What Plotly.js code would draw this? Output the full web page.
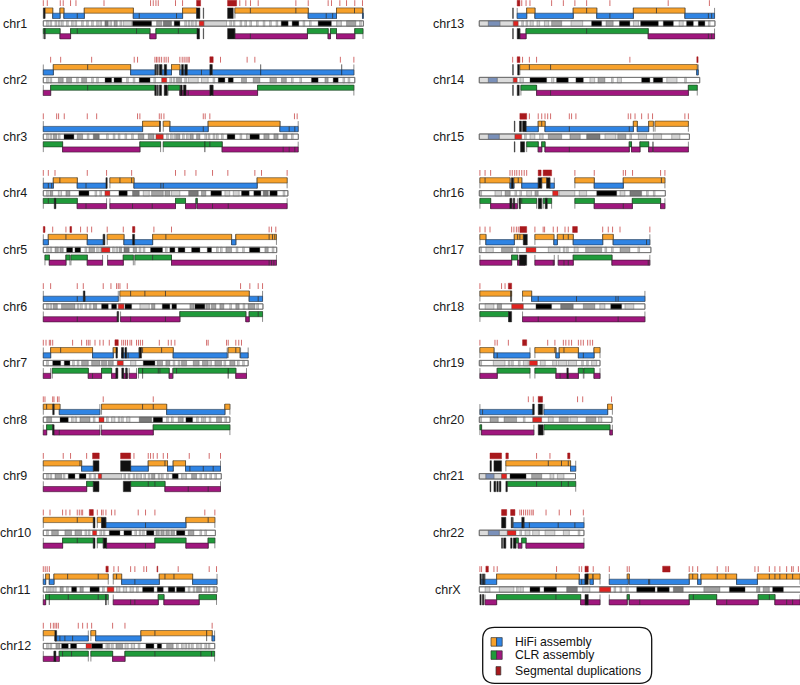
<!DOCTYPE html>
<html><head><meta charset="utf-8">
<script src="https://cdn.plot.ly/plotly-3.0.1.min.js"></script>
<style>html,body{margin:0;padding:0;background:#fff}#chart{width:800px;height:685px}</style>
</head><body><div id="chart"></div>
<script>
// ---------------- DATA (positions in Mb) ----------------
const chromNames = ['chr1','chr2','chr3','chr4','chr5','chr6','chr7','chr8','chr9','chr10','chr11','chr12',
                    'chr13','chr14','chr15','chr16','chr17','chr18','chr19','chr20','chr21','chr22','chrX'];
const chromLengths = [248.9,242.2,198.3,190.2,181.5,170.8,159.3,145.1,138.4,133.8,135.1,133.3,
                      114.4,107.0,102.0,90.3,83.3,80.4,58.6,64.4,46.7,50.8,156.0];
const legendLabels = ['HiFi assembly','CLR assembly','Segmental duplications'];

// Segmental duplications: number = single SD, [start,end] = cluster
const chr1_sd = [0,3.1,13.2,15.5,21.2,25.4,47.2,83.4,85.5,87.6,89.4,102.8,108.3,[119.2,122.3],[143.3,150.3],152.8,157.5,161.1,167.1,196.4,206,221.5,224.1,230.6,235.8,242.2,248.2];
const chr2_sd = [5.7,13.5,37.6,70.7,73.3,86.8,88,89.2,90.5,92,94,95.5,97.2,106.2,108,109.5,111,112.5,113.5,[129.5,132.1],137.8,158.5,164.5,231,241.5];
const chr3_sd = [0,10.4,11.9,16.3,34.2,41.5,73.3,75.1,90.2,91.7,93.8,124.4,125.9,129.5,195.3,197.4];
const chr4_sd = [0,3.9,9.1,34.2,49.2,68.7,102.8,110.1,118.7,131.6,143.5,164.5,169.7,189.6];
const chr5_sd = [[0,1.3],7.3,17.6,[20.7,22],29,34.2,37.6,49.7,62.2,[69.4,71.2],86,99.7,175.6,177.5,180.8];
const chr6_sd = [0,5.7,26.4,31.1,46.6,52.6,57,58.3,59.6,65.3,153.4,160.6,167.1,170.5];
const chr7_sd = [0,2.1,4.7,5.7,7.3,22.8,29.8,33.7,35,36.3,40.2,44,46.6,51.3,[55.7,58.3],61,62.5,64,65.5,67.4,68.7,72.5,74,75.5,77.2,90.2,97.2,99.5,102.3,127,128.2,142.5,143.8,149.7,152,154.1];
const chr8_sd = [0,1.3,7.3,8.3,11,12.2,46.6,85.5];
const chr9_sd = [0,15.5,21.2,33.7,[38.3,43.5],[60.1,67.9],70.5,81.6,83.4,85.5,88.6,93.3,96.6,113.5,129,137.8];
const chr10_sd = [0,5.2,15,17.6,20.7,26.4,28,29.5,30.6,[35.8,38.9],42,45.3,46.5,48.7,53.1,55.7,73.8,79.5,86.8,125.6,133.4];
const chr11_sd = [0,1.5,3,4.7,[48.7,50.5],54.9,58.3,67.9,71.2,78.2,80.3,[88.4,89],104.9,129,134.7];
const chr12_sd = [0,5.7,7.8,9.1,10.4,11.7,27.2,30.6,34.2,37.6,53.9,63.5,131.3];
const chr13_sd = [[18.4,19.7],20.6,22.7,24.6,35.1,40.8,46.4,52.1,63.4,91.7,111.7];
const chr14_sd = [16.2,[18.4,19.7],21,24.3,27.8,73.1,[105.6,106.2]];
const chr15_sd = [[19.7,23],24.3,28.6,30.3,31.9,33.2,34.6,43.7,44.8,46.9,72.3,73.5,75.6,78.8,82,84.1,99.8,101.5];
const chr16_sd = [0.3,2.8,5.5,14.9,16,17.2,18.2,19.4,20.6,21.8,23,[28.6,30],[31,35.1],46.4,55.8,69.9,71,74.4,88,90.1];
const chr17_sd = [0.3,2.8,5.2,15.7,16.8,18,18.9,[19.7,23],27,31,31.7,35.9,37.9,41.6,43.2,[45.3,47.6],59.9,62.6,64.7,68.3,82.8];
const chr18_sd = [0.3,10.8,12.5,[14.1,15.7]];
const chr19_sd = [0.3,7.6,8.7,14.1,[21,23],33.2,36.7,40.8,42,43.5,44.8,48.1,49.3,50.5,52.6,53.8,55];
const chr20_sd = [23.8,26.2,[28.6,30.7],47.7,50.2,64.2];
const chr21_sd = [[5.2,10.8],[12.9,14.1],27.8,34.3,[42.9,44]];
const chr22_sd = [[10.8,13.3],[15.2,17.3],19.7,20.5,21.5,22.5,23.5,24.5,25.5,26.2,32.4,38.8,44.3,50.5];
const chrX_sd = [0.3,1.1,[3.2,4.4],7.1,8.7,37.5,48.5,49.7,[51.3,52.9],55.3,63.1,71.8,72.8,[89,92.6],101.9,103.6,106,115.5,119.7,120.9,133.8,135.4,140.8,143.5,145.9,149.2,151.6,152.4,154.9];

// HiFi contigs: [colour ('o' orange / 'b' blue / 'k' small contigs), start, end, ...internal breaks]
const chr1_hifi = [['k',0,1.3],['o',1.3,7.3],['b',7.3,13],['o',13,16],['b',16,31.9,26.4],['o',31.9,70],['b',70,108.3,74.6,103.6],['o',108.3,119.2],['k',119.2,121.8],['k',124.4,124.7],['k',143.3,147.7],['o',149,206,161,196.4],['b',206,228,220,225],['o',228,248.2,242],['b',248.2,248.9]];
const chr2_hifi = [['b',0,7.8],['o',7.8,67.9,34.5],['b',67.9,86.8],['k',87,88],['k',88.6,89.4],['k',90.2,92.2],['b',92.2,99.7],['k',94,95.9],['o',99.7,106.2],['b',106.2,130,123],['k',107.5,109],['k',110,112],['k',129.5,131.3],['b',131.3,169],['b',169,232],['b',232,241.5]];
const chr3_hifi = [['b',0,77.2],['o',77.2,90.7],['k',90.4,91],['o',93.3,98.4],['b',98.4,128.2,124.4],['o',128.2,184],['b',184,198.2,191.2,195.6]];
const chr4_hifi = [['b',0,7.8,3.9,6.5],['o',7.8,26.4,12.9],['b',26.4,49.2,33.2],['k',48.7,49.7],['o',51.8,70.5,59.6,68.7],['b',70.5,166.3,91.4,93.3],['o',166.3,189.6]];
const chr5_hifi = [['b',0,3.9],['o',3.9,34.2,17.6],['b',34.2,46.6],['k',46.6,47.9],['o',49.7,62.7],['b',62.7,85],['k',69.4,71],['o',85,146.4,95.3],['b',146.4,149.7],['o',149.7,181.3,175.6,178.2,180]];
const chr6_hifi = [['b',0,58.3,26.4,32.4],['k',31.1,32.4],['o',59.6,160.1,67.9,79,95],['b',160.1,170.5,167.1]];
const chr7_hifi = [['b',0,5.7],['o',5.7,38.3,13.5],['b',38.3,54.4],['o',54.4,57.5],['k',56.5,57.5],['b',60.9,74.6,66],['k',60.9,62.5],['k',63.5,64.8],['k',74.6,76.4],['o',74.6,101,77.2,92],['b',101,143],['o',143.8,152.8,149.7],['b',153.4,159.3]];
const chr8_hifi = [['o',0,13,2.6,7.8],['k',7.3,8.5],['b',12.4,44],['o',45.3,95.9,77.2,85.5],['b',95.9,141.2],['o',141.2,145.1]];
const chr9_hifi = [['o',0,29.8,28.5],['b',29.8,38.9],['k',38.9,43.3],['k',60.1,67.9],['b',67.9,81.6],['o',81.6,96.6,94.6],['b',96.6,101],['o',101,110.6],['b',110.6,137.8,114,124.4,132.1]];
const chr10_hifi = [['o',0,38.9,26.4],['k',38.9,40.2],['o',42,45.3],['k',45.3,48.7],['b',48.7,110.9,79.5],['o',110.9,133.4,128.2]];
const chr11_hifi = [['b',0,1.8],['o',1.8,4.7],['b',4.7,8.3],['o',8.3,50.5,18.9,42.7],['o',54.4,60.9,57],['b',60.9,90.2,71.2],['o',90.2,116.1,94.6,101.6],['b',116.1,135.1]];
const chr12_hifi = [['o',0,9.1],['k',9.1,10.4],['b',9.1,35,12.9,16.8,22.8],['o',37,40.7],['b',40.7,75.9],['o',75.9,127,86.8],['o',127,131.3],['b',131.3,133.2]];
const chr13_hifi = [['k',16.2,16.5],['b',18.4,23],['o',23,27],['b',27,45.6],['o',45.6,57,52.1],['b',57,74.8,63.4],['o',74.8,99.8,86],['b',99.8,114.2,111.2,112.8]];
const chr14_hifi = [['k',16.2,16.5],['k',18.6,19.4],['o',19.7,105.8,24.3,34.6],['b',105.5,106.3]];
const chr15_hifi = [['k',17,17.3],['k',19.5,20.5],['k',21,22.7],['b',22.7,28.6],['o',28.6,31.9,30.3],['b',31.9,74.8,43.7,72.8],['o',74.8,76.7],['b',76.7,82.2],['o',82.2,84.5],['o',85.3,101.5]];
const chr16_hifi = [['o',0.3,14.9,2.8],['b',14.9,16.8],['k',15.5,16.5],['o',16.8,20.6,18.9],['b',20.6,28.6],['k',28.6,30.3],['o',30.3,32.7],['k',32.7,34.3],['b',34.3,36.4],['o',46.4,55.8],['b',55.8,69.9],['o',69.9,90.1,88.4]];
const chr17_hifi = [['o',0.3,3.2],['b',3.2,17],['o',17,21.4,18.6,19.7],['k',21.4,23.3],['o',27,36.2],['b',36.2,37.9],['o',37.9,45.6,40.8,43.2],['b',45.6,59.9],['o',59.9,65],['b',65,82.8,81.2]];
const chr18_hifi = [['o',0.3,15.7],['k',15.2,15.5],['o',21,25.4],['b',25.4,80.4,28.6,47.2,66.3,67.4]];
const chr19_hifi = [['o',0.3,7.1],['b',7.1,24.6,8.7],['o',27,37.2,36.7],['b',37.2,38.8],['o',38.8,48.1,41.1],['b',48.1,55.7,50.5],['o',55.7,58.6]];
const chr20_hifi = [['b',0.3,26.2,1.6],['k',25.9,26.7],['k',28.6,30.7],['b',31.4,62.3],['o',62.3,64.6]];
const chr21_hifi = [['k',5.2,5.9],['k',7.1,10.8],['o',12.9,44.3,33.5,39.9,43.2],['b',44.3,46.8]];
const chr22_hifi = [['k',10.8,12.9],['k',15.5,16.2],['b',16.5,50.8,21.4,24.3,38.3,46.4],['k',20.6,21.8]];
const chrX_hifi = [['k',0.3,0.9],['k',1.5,2.2],['k',2.5,2.8],['b',0.9,8.4],['o',8.4,48.5,37.2],['b',48.5,51.3,49.7],['k',51.3,52.9],['o',52.1,55],['b',53.7,55.3],['o',55.3,58.6],['b',63.1,72.3],['o',71.8,72.8],['b',72.8,101.9,82.2,82.7],['o',101.9,106,103.6],['b',106,107.6],['o',107.6,124.9,115.5,119.7],['b',124.9,135],['o',135,155.7,140.8,143.5,145.9,149.2,152.1]];

// CLR contigs: [colour ('g' green / 'm' magenta / 'k' small contigs), start, end, ...internal breaks]
const chr1_clr = [['g',0,13],['k',0.8,1.5],['m',13,21.2],['g',21.2,82.9,26.4,72.5],['m',82.9,87.6],['g',87.6,119.9,105],['k',119.5,121.5],['k',124.4,124.7],['k',143.3,149],['m',149,205.4,161],['g',205.4,221.5],['m',221.5,223.3],['g',223.3,228],['m',228,242.2],['g',242.2,248.6]];
const chr2_clr = [['m',0,5.7],['g',5.7,86.8,34.5],['k',86.8,88],['k',88.6,89.4],['k',90.2,92],['k',94,96.5],['g',97,106.2],['m',106.2,130,112.7],['k',106.5,108],['k',109,111],['k',129.5,132],['m',132,166.6],['g',166.6,241.5]];
const chr3_clr = [['g',0,15],['m',15,75.1],['g',75.1,91.2],['g',93.3,125.6],['g',125.6,139.1,129.5],['m',139.1,198.2,186.5,191.2,195.6]];
const chr4_clr = [['g',0,26.4,3.9],['k',8.5,9.8],['m',26.4,49.2,33.2],['m',51.8,102.8,69.4,84.7],['g',102.8,110.6],['m',110.6,118.7],['g',118.7,119.7],['m',119.7,189.6,131.6,143.8]];
const chr5_clr = [['g',1.3,4.7],['m',4.7,17.6],['g',17.6,20.7],['g',21.5,34.2],['m',34.2,46.1],['m',50,62.2],['g',62.2,70],['g',71.2,99.7,85],['m',99.7,181.3,175.6,177.5,179.3]];
const chr6_clr = [['m',0,57.5,26.4],['k',57.5,58.6],['m',60.1,106.2,67.9,95],['g',106.2,157.5],['m',157.5,160.1],['g',160.1,170.5,167.1]];
const chr7_clr = [['m',0,5.7],['g',7,35],['m',35,45.3,38.3],['g',45.3,53.1],['m',53.1,56.5],['k',56.5,58],['k',61,62.5],['m',62.2,65.5],['k',64,65],['m',66.8,72.5],['g',74,77.2],['g',77.2,97.9,89.4,90.7],['m',97.9,100.5],['g',101,143.8,103.6],['g',143.8,149.7],['m',149.7,158]];
const chr8_clr = [['m',0,2.6],['g',2.6,7.3],['k',7.3,8.3],['m',8.3,44,12.4],['m',45.3,85.5],['g',85.5,145.1]];
const chr9_clr = [['m',0,33.7],['g',33.7,38.9],['k',38.9,43.3],['k',62.2,67.9],['g',67.9,94.6,81.6,86.8],['m',94.6,137.8,112.7,128.2]];
const chr10_clr = [['m',0,15],['g',15,38.9,26.4],['k',38.9,40.2],['g',42,46.6],['k',46.6,49.2],['m',49.2,86.8,79.5],['g',86.8,110.9],['m',110.9,128.2],['g',128.2,133.4]];
const chr11_clr = [['m',0,1.8],['g',1.8,4.7],['g',4.7,50.5,19.4,42.7],['k',48.4,49],['m',54.4,89.4,67.9,71.2],['g',89.4,93.8],['m',93.8,121.2],['g',121.2,134.7]];
const chr12_clr = [['m',0,8.3],['k',8.3,9.8],['m',9,12.4],['g',12.4,35,15,22],['g',37,53.9],['m',53.9,63.5],['g',63.5,133.2,86.8,122.5,130.8]];
const chr13_clr = [['k',16.2,16.5],['k',18.4,19.7],['m',19.7,22.7],['g',22.7,82,52.1],['m',82,114.2,111.2,112.8]];
const chr14_clr = [['k',16.2,16.5],['k',18.4,19.4],['g',20.2,27.8],['m',27.8,101.5,34.6],['g',101.5,105.8]];
const chr15_clr = [['k',17,17.3],['k',20,22],['g',23,28.6],['m',28.6,30.3],['g',30.3,31.9],['m',31.9,72.8,43.7],['g',72.8,73.9],['m',73.9,78],['g',78,82.2],['m',82.2,84.1],['m',84.5,101.5]];
const chr16_clr = [['g',0.3,5.5],['m',5.5,14.9],['k',14.9,15.8],['m',15.8,18.5],['k',16.5,17.2],['g',19.4,27.8,20.6],['k',19.4,20],['k',28.6,30.3],['g',31,35.1],['k',32,33],['g',46.4,55.8],['m',55.8,74.3,69.9],['g',74.3,88],['m',88,90.1]];
const chr17_clr = [['m',0.3,15.7],['g',15.7,18.6],['m',18.6,22.2],['k',19.4,23],['m',27,36.4,35.9],['m',38.3,45.6,41.1,43.2],['g',45.6,64.4],['m',64.4,82.8,82]];
const chr18_clr = [['g',0.3,14.2],['k',14.2,15.7],['m',21,80.4,28.6,46.9,67.4]];
const chr19_clr = [['m',0.3,8.7],['g',8.7,24.6],['g',27,37.2],['m',37.2,48.1,39.2,43.2],['k',42.5,43.2],['g',48.1,50.5],['g',50.8,55.7],['m',55.7,58.6]];
const chr20_clr = [['g',0.3,1.1],['m',1.1,26.5],['k',28.6,31],['g',31.4,63.4],['m',63.4,64.6]];
const chr21_clr = [['k',5.2,5.6],['k',7.1,8],['k',8.5,9.2],['k',9.7,10.5],['k',12.9,13.5],['g',13.6,46.8,27.8,39.9,43.2]];
const chr22_clr = [['k',10.8,11.3],['k',11.8,12.9],['k',15.2,15.9],['k',16.5,17.8],['g',17.8,18.9],['m',18.9,20.6],['g',20.6,22.7],['m',22.7,50.8]];
const chrX_clr = [['k',0.3,0.9],['k',1.5,2.2],['m',2.8,8.4],['g',8.4,49.2,37.2],['m',49.2,58.6],['k',51.3,52.9],['m',63.1,71.8],['g',71.8,72.8],['m',72.8,101.9,77.9],['g',101.9,115.2,103.9],['m',115.2,135.4,120.1],['g',135.4,143.5,140.8],['m',143.5,155.7,149.2,152.1]];

// Cytobands: [start,end,stain] ; a plain number = thin light band
// stains: l light grey, m mid grey, d dark grey, k black, c centromere, s stalk, v variable (p-arm)
const chr1_bands = [2.6,5.2,9.1,11.7,14.2,18.1,22,24.6,29.8,33.7,37.6,41.5,44,[47.9,50.5,'d'],51.8,[55,57.5,'m'],59.6,[62.2,68.7,'l'],[69.4,84.2,'k'],[88.1,92,'m'],[93.3,99.7,'d'],[101.8,106.2,'k'],110,112.7,115.3,118,[121.2,124.9,'c'],[124.9,142.5,'l'],145,147.7,153,156.7,160.6,165.8,171,176,181,[185,190.4,'k'],[193.5,198.7,'k'],202,207,[213.7,224,'k'],228,230.6,[235.8,243,'m'],246];
const chr2_bands = [2.6,5.2,[11.7,15.5,'m'],[18.1,22,'m'],25.9,[29.8,33.7,'m'],37.6,41.5,[48,53.1,'k'],[55,61,'k'],64.8,69.9,[74.6,83,'k'],86,[92,96,'c'],98.4,101,[103.6,107.5,'m'],110,[112.7,120.5,'l'],[123,128.2,'l'],132,[136,141.2,'k'],[143.8,147.7,'k'],[154.1,158,'m'],[163.2,168.4,'m'],[176.2,181.3,'m'],[185.2,189,'m'],193,199.5,[208.5,213.7,'k'],[219,221.5,'m'],[225.4,229.3,'k'],233,237];
const chr3_bands = [2.6,5.2,[7.8,10.4,'m'],11.7,[16.1,23.8,'k'],[26.4,30.6,'m'],34.2,[38.9,43.5,'d'],49.2,54.4,58.3,63.5,68.7,[73.8,78.2,'m'],[81.6,86,'m'],[87.6,93.3,'c'],95.9,99,101.6,[103.6,106.2,'m'],108.3,111.4,[114,116.6,'m'],[119.2,121.8,'m'],125.6,128.2,132.1,134.7,138.6,[143,149,'k'],153,158,[160.6,168,'k'],[171.5,175.6,'m'],[179.3,182.6,'m'],[186.5,189.6,'m'],193];
const chr4_bands = [2.6,[5.2,7.3,'m'],[11.7,14.2,'l'],[17.6,20.7,'m'],[27.7,35.5,'k'],40.2,44,[47.9,51.8,'c'],[58.8,65.3,'k'],[69.4,74.6,'d'],[77.7,82.4,'l'],[84.2,93.3,'m'],[94.6,98.4,'m'],[99.7,106.2,'l'],[113,120.5,'d'],[123,126.4,'m'],[130.3,138.6,'k'],[141.2,145,'l'],[147.7,152.3,'l'],[154.1,160.1,'k'],[163.7,169.2,'k'],[171,174.9,'d'],[176.2,181.9,'k'],186.5];
const chr5_bands = [2.6,5.2,[9.1,11.7,'m'],[12.9,15.5,'m'],[18.1,22.8,'k'],[24.6,29,'k'],32.4,[35.5,39.9,'m'],41.5,44,[45.3,51.8,'c'],53.9,56.5,[59,60.9,'m'],[62.7,66.8,'d'],[69.9,72.5,'m'],74.6,77.7,[83.4,92.7,'k'],95,[98.4,102.3,'k'],[104.9,110.1,'k'],[115.3,121.8,'k'],[127.5,130.8,'k'],134.7,137.8,[142,146.4,'m'],150,155,[160.3,168.4,'k'],[172.3,174.9,'m'],178];
const chr6_bands = [2.6,5.2,[7.8,10.9,'m'],[14.2,24.6,'m'],26.4,29,32.4,35.8,[38.9,41.5,'m'],[45.3,50.5,'k'],[53.1,57,'k'],[58.3,62.7,'c'],[63.5,68.7,'k'],[75.1,82.4,'l'],[84.2,86.8,'m'],[92.5,98.4,'k'],[100,103.6,'k'],[114,117.1,'m'],[117.9,125.6,'k'],[126.4,129.5,'m'],[130.8,134.2,'m'],[137.3,140.4,'m'],145,[149.7,152.3,'m'],155.4,[159.3,164.5,'m'],166];
const chr7_bands = [2.6,[7.3,13.5,'k'],[16.3,20.7,'k'],22.8,26.4,[29.8,35,'m'],[37.6,44,'m'],[45.3,49.2,'m'],[50.5,54.4,'m'],[57.5,62.2,'c'],[67.9,72,'l'],[77.7,86.8,'k'],[88.6,92.7,'m'],[95.3,98.4,'m'],101,104.9,[107.5,111.4,'m'],[116.6,121.2,'m'],[123.8,128.2,'m'],129.5,[133.4,138.6,'m'],140.5,[145,149,'m'],151,155];
const chr8_bands = [[2.6,6.5,'m'],[13,19.4,'k'],22,24.6,[28.5,36.3,'m'],38.9,[43.3,47.2,'c'],49.2,[53.1,55.7,'l'],58.3,60.9,[64.8,67.4,'l'],[74.6,84.2,'d'],[85.5,92.7,'k'],95.9,99.7,[104.9,108.8,'m'],[110.9,116.1,'k'],119.2,123,124.9,129,[134.7,138.6,'m'],141.2];
const chr9_bands = [2.6,5.2,[9.1,14.2,'m'],15.5,[19.4,24.6,'k'],[28,33.2,'k'],35.8,39.4,[42.7,45.3,'c'],[45.3,60.9,'l'],62.7,66,69.9,72.5,75.1,78.2,81.6,[84.2,86.8,'m'],89.4,91.9,95.9,[100.3,104.9,'k'],107.5,110.1,[115.3,119.2,'m'],121.8,125.6,129.5,133.4];
const chr10_bands = [2.6,[6.5,11.7,'m'],[16.8,22,'m'],[24.6,29.8,'m'],32.4,35,[38.3,41.5,'c'],44,46.6,[51.3,59.6,'k'],[62.7,68.7,'k'],71.2,74.6,77.2,[80.3,86,'k'],[87.6,90.2,'m'],[91.4,94,'m'],[95.3,98,'m'],[99.2,102,'m'],[103.6,110.1,'k'],[112.7,117.1,'m'],121.8,125.6];
const chr11_bands = [[2.6,4.5,'l'],[5.2,7,'l'],[8,10,'l'],[13,15.5,'m'],18.1,[22,25.9,'k'],[28.5,31.1,'m'],[36.3,43.5,'k'],46.1,[49.7,54.9,'c'],[57,59.6,'l'],[62.2,64.8,'l'],[67.4,70,'l'],72.5,[77.2,86,'k'],[88.6,93.3,'k'],[97.2,102.3,'k'],[103.6,110.1,'k'],112.7,116.6,[119.2,123,'m'],125.6,128.2,132.1];
const chr12_bands = [2.6,5.2,[9.8,12.9,'m'],[14.2,19.4,'k'],[21.2,25.9,'k'],[33.2,37.6,'c'],[37.6,46.1,'k'],48.7,50.5,53.1,[56.5,61.7,'m'],[63.5,66,'l'],[68.4,71,'l'],73.8,[79.8,86,'k'],[88.6,92,'k'],[95.9,101,'m'],103.6,107.5,110.1,112.7,115.3,119.2,121.8,125.6,128.2];
const chr13_bands = [[0,4.4,'s'],[4.4,10,'v'],[10,16.5,'s'],[16.5,18.9,'c'],20.6,22.7,[24.6,26.2,'l'],[28,29.3,'l'],[31.6,33.7,'l'],[35.1,40,'m'],[44.5,50.2,'l'],[54.5,59.4,'k'],[61.5,65,'m'],[68,73.1,'k'],[74.8,77.3,'l'],[78.3,86.9,'k'],[89.3,94.2,'k'],[97,99,'l'],[100.6,103.9,'k'],[106.3,109.5,'k'],111.2];
const chr14_bands = [[0,4.4,'s'],[4.4,8.7,'v'],[8.7,16.5,'s'],[16.5,18.4,'c'],[19.7,21.4,'l'],[24.6,32.7,'k'],[35.1,36.2,'l'],[37.5,43.2,'k'],[46.9,50.5,'k'],[53.7,56,'l'],[57.6,61,'m'],64.2,[67,69,'l'],[78.8,82.8,'k'],[84.5,89,'k'],[91,96,'l'],99.7];
const chr15_bands = [[0,4.4,'s'],[4.4,9.7,'v'],[9.7,17.3,'s'],[17.3,20.6,'c'],22,[24.6,27,'l'],[29.3,31,'l'],[33.5,40,'m'],[44,49,'m'],[52.1,58.6,'d'],[61,66.3,'l'],[67.2,71.2,'m'],73.1,[77.2,81.2,'l'],[84.5,88.5,'l'],[93.4,97.4,'l']];
const chr16_bands = [0.3,[7.6,10.8,'l'],[12.5,15,'m'],17.3,19.7,[23,25.4,'l'],[27,28.6,'m'],[35.6,38.3,'c'],[38.8,46.4,'l'],[48.5,52.1,'l'],[57,66.7,'k'],[68.3,70.7,'l'],[73.1,78.8,'d'],81.2,84.5];
const chr17_bands = [0.3,[3.2,6.8,'l'],[10.8,16.2,'m'],18.1,[22.7,27.5,'c'],[33.5,39.2,'l'],40.8,42.4,[46,48,'l'],[51.6,59.4,'m'],61,64.2,[68.3,73.1,'m'],77];
const chr18_bands = [[2.8,7.1,'l'],[8.7,10.8,'m'],[15.7,21.4,'c'],[27.5,35.1,'k'],[39.5,45.6,'d'],[50.5,56.1,'m'],[58.5,61,'l'],[63.8,69.1,'k'],[70.7,75,'l']];
const chr19_bands = [0.3,[6.8,12.5,'l'],14.1,15.7,19,[21.4,23.8,'l'],[24.3,28.2,'c'],[29.6,32,'l'],[35.6,37.5,'l'],[38.3,42.4,'l'],[43.2,47.2,'l'],49.7,52.1,[54.5,57,'l']];
const chr20_bands = [0.3,[5.2,9.2,'m'],[12,18.1,'m'],21.4,[25.9,30.3,'c'],[33.5,35.9,'l'],[38.8,43.2,'m'],[44,47.6,'l'],[51.8,56.6,'m'],[57.9,59.5,'l']];
const chr21_bands = [[0,3.2,'s'],[3.2,7.1,'v'],[7.1,10.8,'s'],[10.8,13.3,'c'],[14.9,22.7,'k'],[25.4,30.3,'m'],[34.3,36.2,'l'],[37.9,41.1,'l']];
const chr22_bands = [[0,4.4,'s'],[4.4,9.7,'v'],[9.7,13.6,'s'],[13.6,17.8,'c'],19.7,[22.2,24.6,'l'],[25.9,29.1,'l'],[31.9,36.7,'l'],[40.8,43.7,'l'],48];
const chrX_bands = [[2.8,5.2,'l'],[9.7,16.8,'l'],18.1,[19.7,21.4,'l'],[24.6,29.4,'k'],[31.4,37.5,'k'],[42.4,47.6,'d'],[50.2,53.7,'l'],[58.3,63.8,'c'],65.4,68.3,[71.2,72.3,'l'],[76.4,85.3,'k'],[86.4,92.2,'k'],[94.2,99,'d'],[109,116.8,'m'],[121.4,129,'k'],[134.6,136.2,'m'],[137.8,140.8,'m'],[142.4,147.6,'k']];

// ---------------- tables built from the arrays ----------------
const SD = [chr1_sd,chr2_sd,chr3_sd,chr4_sd,chr5_sd,chr6_sd,chr7_sd,chr8_sd,chr9_sd,chr10_sd,chr11_sd,chr12_sd,chr13_sd,chr14_sd,chr15_sd,chr16_sd,chr17_sd,chr18_sd,chr19_sd,chr20_sd,chr21_sd,chr22_sd,chrX_sd];
const HIFI = [chr1_hifi,chr2_hifi,chr3_hifi,chr4_hifi,chr5_hifi,chr6_hifi,chr7_hifi,chr8_hifi,chr9_hifi,chr10_hifi,chr11_hifi,chr12_hifi,chr13_hifi,chr14_hifi,chr15_hifi,chr16_hifi,chr17_hifi,chr18_hifi,chr19_hifi,chr20_hifi,chr21_hifi,chr22_hifi,chrX_hifi];
const CLR = [chr1_clr,chr2_clr,chr3_clr,chr4_clr,chr5_clr,chr6_clr,chr7_clr,chr8_clr,chr9_clr,chr10_clr,chr11_clr,chr12_clr,chr13_clr,chr14_clr,chr15_clr,chr16_clr,chr17_clr,chr18_clr,chr19_clr,chr20_clr,chr21_clr,chr22_clr,chrX_clr];
const BANDS = [chr1_bands,chr2_bands,chr3_bands,chr4_bands,chr5_bands,chr6_bands,chr7_bands,chr8_bands,chr9_bands,chr10_bands,chr11_bands,chr12_bands,chr13_bands,chr14_bands,chr15_bands,chr16_bands,chr17_bands,chr18_bands,chr19_bands,chr20_bands,chr21_bands,chr22_bands,chrX_bands];

// ---------------- styling / layout constants ----------------
const W = 800, H = 685;
const ROW0 = 23.5, ROWGAP = 56.6;
const TR = {sd:[-23.3,-17.5], top1:[-15.6,-10.3], bot1:[-10.3,-5.0], ideo:[-2.7,2.7], top2:[5.0,10.2], bot2:[10.2,15.4]};
const COL = {o:'#f7a12b', b:'#2f84e4', g:'#1f9a3a', m:'#a0177e', k:'#111111', sd:'#a8181c'};
const STAIN = {w:'#ffffff', l:'#d3d3d3', m:'#a3a3a3', d:'#7a7a7a', k:'#000000', c:'#e0231f', s:'#dcdcdc', v:'#7a90b9'};
const COLUMNS = [
  {first:0, n:12, xa:'x', px0:43.3, scale:1.286, stripe:1.3, labelX:15},
  {first:12, n:11, xa:'x2', px0:479.3, scale:2.06, stripe:0.8, labelX:448}
];

function mk(){return {x:[],y:[]};}
function rect(a,x0,x1,y0,y1){a.x.push(x0,x1,x1,x0,x0,null);a.y.push(y0,y0,y1,y1,y0,null);}
function vline(a,x,y0,y1){a.x.push(x,x,null);a.y.push(y0,y1,null);}
function polyTrace(a,xa,fill,lc,lw){return {type:'scatter',mode:'lines',x:a.x,y:a.y,xaxis:xa,yaxis:'y',fill:'toself',fillcolor:fill,line:{color:lc,width:lw},hoverinfo:'skip'};}
function lineTrace(a,xa,lc,lw){return {type:'scatter',mode:'lines',x:a.x,y:a.y,xaxis:xa,yaxis:'y',line:{color:lc,width:lw},hoverinfo:'skip'};}

const traces = [], annotations = [];
COLUMNS.forEach(col => {
  const A = {};
  ['ideo','l','m','d','k','c','s','v','outline','ends','o','b','g','mg','blk','div','sd','sdt'].forEach(k=>A[k]=mk());
  for (let j=0;j<col.n;j++){
    const i = col.first + j;
    const yc = ROW0 + j*ROWGAP;
    const L = chromLengths[i];
    rect(A.ideo,0,L,yc+TR.ideo[0],yc+TR.ideo[1]);
    BANDS[i].forEach(b=>{
      if (typeof b === 'number') rect(A.l,b,b+col.stripe,yc+TR.ideo[0],yc+TR.ideo[1]);
      else rect(A[b[2]],b[0],b[1],yc+TR.ideo[0],yc+TR.ideo[1]);
    });
    rect(A.outline,0,L,yc+TR.ideo[0],yc+TR.ideo[1]);
    SD[i].forEach(s=>{
      if (typeof s === 'number') vline(A.sdt,s,yc+TR.sd[0],yc+TR.sd[1]);
      else rect(A.sd,s[0],s[1],yc+TR.sd[0],yc+TR.sd[1]);
    });
    const tracks = [
      {list:HIFI[i], top:TR.top1, bot:TR.bot1, codes:{o:['o','top'], b:['b','bot']}},
      {list:CLR[i], top:TR.top2, bot:TR.bot2, codes:{g:['g','top'], m:['mg','bot']}}
    ];
    tracks.forEach(t=>{
      t.list.forEach(c=>{
        const code=c[0], s=c[1], e=c[2];
        if (code==='k'){ rect(A.blk,s,e,yc+t.top[0],yc+t.bot[1]); return; }
        const [acc,row] = t.codes[code];
        const r = row==='top'?t.top:t.bot;
        rect(A[acc],s,e,yc+r[0],yc+r[1]);
        vline(A.ends,s,yc+t.top[0],yc+t.bot[1]);
        vline(A.ends,e,yc+t.top[0],yc+t.bot[1]);
        c.slice(3).forEach(d=>vline(A.div,d,yc+r[0],yc+r[1]));
      });
    });
    annotations.push({x:col.labelX/W, xref:'paper', y:yc, yref:'y', text:chromNames[i], showarrow:false,
      xanchor:'center', yanchor:'middle', font:{family:'Liberation Sans, Arial, sans-serif', size:12.5, color:'#1a1a1a'}});
  }
  const xa = col.xa;
  traces.push(polyTrace(A.ideo,xa,STAIN.w,'#666',0.5));
  ['l','m','d','k','s','v','c'].forEach(k=>traces.push(polyTrace(A[k],xa,STAIN[k],'rgba(70,70,70,0.75)',0.45)));
  traces.push(lineTrace(A.outline,xa,'#6a6a6a',0.9));
  traces.push(lineTrace(A.ends,xa,'#707070',0.8));
  traces.push(polyTrace(A.o,xa,COL.o,'#4a3a20',0.6));
  traces.push(polyTrace(A.b,xa,COL.b,'#22344a',0.6));
  traces.push(polyTrace(A.g,xa,COL.g,'#1f3a22',0.6));
  traces.push(polyTrace(A.mg,xa,COL.m,'#3a1a30',0.6));
  traces.push(polyTrace(A.blk,xa,COL.k,'#333',0.5));
  traces.push(lineTrace(A.div,xa,'#333',0.8));
  traces.push(lineTrace(A.sdt,xa,'rgba(196,60,60,0.75)',1.0));
  traces.push(polyTrace(A.sd,xa,COL.sd,'rgba(168,24,28,0.8)',0.6));
});

// ---------------- legend (drawn by hand) ----------------
const px = x => x/W, py = y => 1 - y/H;
const bx0=482.7, bx1=651.7, by0=627.3, by1=683.3, r=12;
const P = (x,y)=> px(x)+','+py(y);
const boxPath = 'M'+P(bx0+r,by0)+' L'+P(bx1-r,by0)+' Q'+P(bx1,by0)+' '+P(bx1,by0+r)+
  ' L'+P(bx1,by1-r)+' Q'+P(bx1,by1)+' '+P(bx1-r,by1)+' L'+P(bx0+r,by1)+' Q'+P(bx0,by1)+' '+P(bx0,by1-r)+
  ' L'+P(bx0,by0+r)+' Q'+P(bx0,by0)+' '+P(bx0+r,by0)+' Z';
const shapes = [{type:'path', xref:'paper', yref:'paper', path:boxPath, line:{color:'#111', width:1.3}, fillcolor:'rgba(0,0,0,0)'}];
function sw(x0,x1,y0,y1,fill){shapes.push({type:'rect',xref:'paper',yref:'paper',x0:px(x0),x1:px(x1),y0:py(y1),y1:py(y0),fillcolor:fill,line:{color:'#333',width:0.7}});}
sw(491,496.6,637.6,646.2,COL.o); sw(496.6,502.2,637.6,646.2,COL.b);
sw(491,496.6,650.8,659.4,COL.g); sw(496.6,502.2,650.8,659.4,COL.m);
sw(496,500.8,666.6,675,COL.sd);
[641.8,655.1,670.8].forEach((y,k)=>annotations.push({x:px(513),xref:'paper',y:py(y),yref:'paper',text:legendLabels[k],showarrow:false,
  xanchor:'left',yanchor:'middle',font:{family:'Liberation Sans, Arial, sans-serif',size:12.2,color:'#111'}}));

const layout = {
  width:W, height:H, margin:{l:0,r:0,t:0,b:0}, showlegend:false,
  paper_bgcolor:'#fff', plot_bgcolor:'#fff',
  xaxis:{range:[-COLUMNS[0].px0/COLUMNS[0].scale,(W-COLUMNS[0].px0)/COLUMNS[0].scale], visible:false, fixedrange:true},
  xaxis2:{range:[-COLUMNS[1].px0/COLUMNS[1].scale,(W-COLUMNS[1].px0)/COLUMNS[1].scale], overlaying:'x', anchor:'y', visible:false, fixedrange:true},
  yaxis:{range:[H,0], visible:false, fixedrange:true},
  shapes:shapes, annotations:annotations
};
Plotly.newPlot('chart', traces, layout, {staticPlot:true, displayModeBar:false});
</script></body></html>
